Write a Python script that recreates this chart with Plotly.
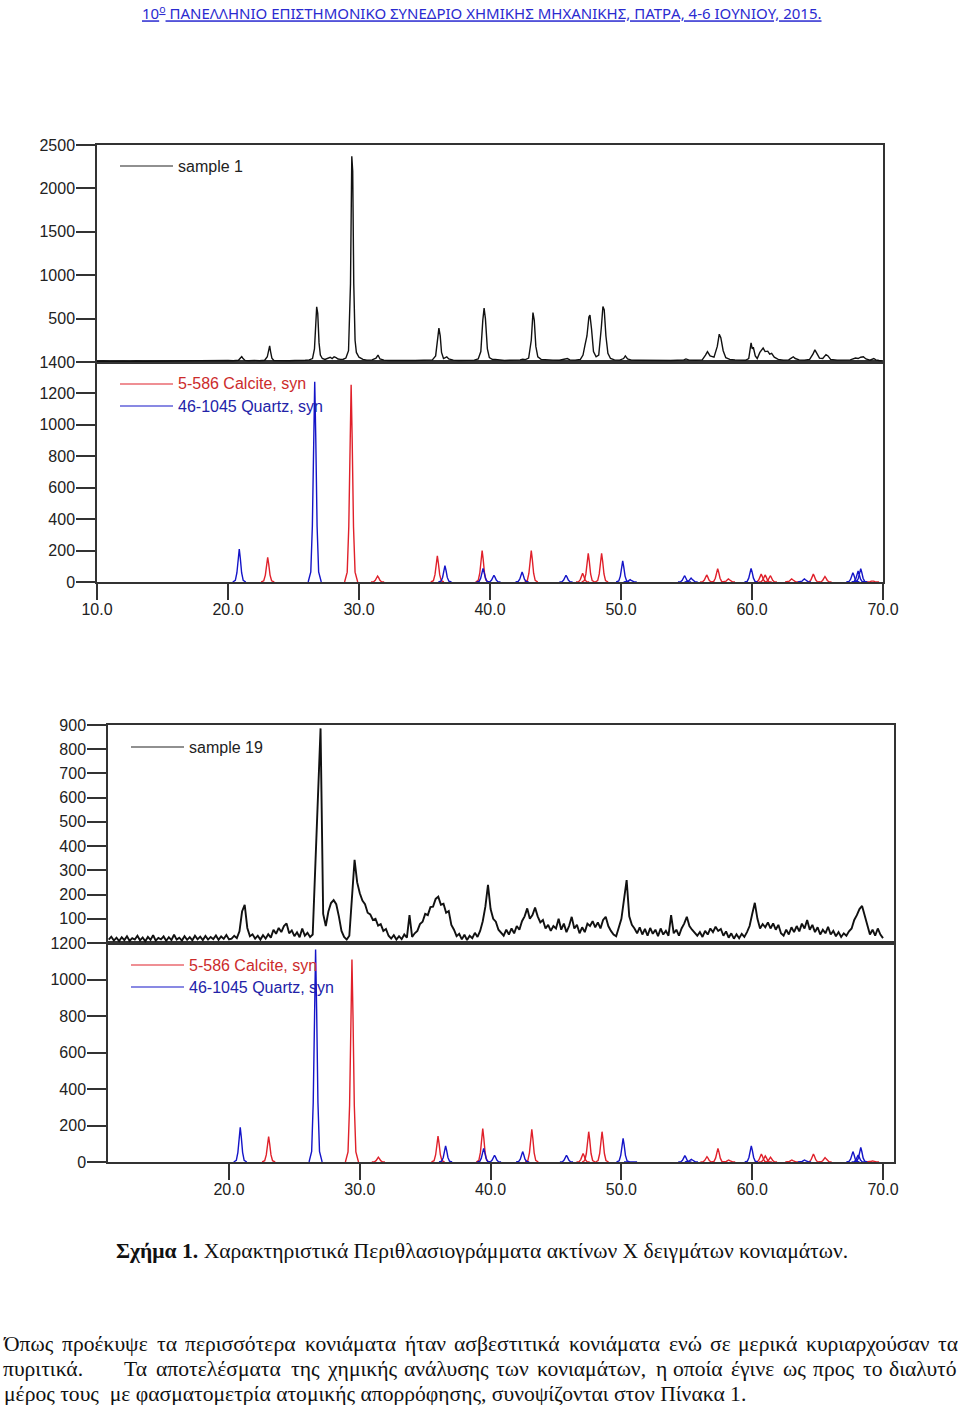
import plotly.graph_objects as go

# ---------------- data ----------------
# Sample 1 diffractogram (2theta, counts)
SAMPLE1_2THETA = [
    10.0, 10.5, 11.0, 11.5, 12.0, 12.5, 13.0, 13.5, 14.0, 14.5, 15.0, 15.5, 16.0, 16.5, 17.0, 17.5,
    18.0, 18.5, 19.0, 19.5, 20.0, 20.4, 20.8, 20.95, 21.05, 21.15, 21.3, 21.6, 22.0, 22.4, 22.8,
    23.0, 23.1, 23.18, 23.25, 23.35, 23.5, 23.9, 24.3, 24.7, 25.1, 25.5, 25.9, 26.2, 26.45, 26.6,
    26.7, 26.77, 26.85, 26.95, 27.05, 27.2, 27.4, 27.6, 27.8, 27.95, 28.1, 28.25, 28.4, 28.6, 28.8,
    29.0, 29.2, 29.35, 29.45, 29.52, 29.6, 29.7, 29.8, 30.0, 30.3, 30.6, 31.0, 31.3, 31.45, 31.6,
    31.9, 32.3, 32.8, 33.3, 33.8, 34.3, 34.8, 35.3, 35.6, 35.85, 36.0, 36.1, 36.2, 36.3, 36.45,
    36.7, 36.85, 37.2, 37.6, 38.0, 38.4, 38.8, 39.1, 39.3, 39.45, 39.55, 39.65, 39.8, 39.95, 40.2,
    40.4, 40.7, 41.1, 41.5, 41.9, 42.3, 42.5, 42.7, 42.95, 43.15, 43.28, 43.38, 43.5, 43.65, 43.9,
    44.3, 44.8, 45.3, 45.7, 45.9, 46.1, 46.5, 46.9, 47.1, 47.25, 47.4, 47.55, 47.63, 47.75, 47.9,
    48.1, 48.3, 48.5, 48.62, 48.72, 48.85, 49.0, 49.2, 49.5, 49.9, 50.2, 50.33, 50.5, 50.8, 51.3,
    51.8, 52.3, 52.8, 53.3, 53.8, 54.3, 54.8, 54.96, 55.2, 55.7, 56.2, 56.45, 56.6, 56.8, 57.1,
    57.35, 57.5, 57.62, 57.8, 58.0, 58.3, 58.7, 59.1, 59.5, 59.75, 59.85, 59.93, 60.02, 60.1, 60.25,
    60.4, 60.6, 60.75, 60.85, 61.0, 61.2, 61.35, 61.5, 61.7, 62.0, 62.4, 62.8, 63.0, 63.15, 63.3,
    63.6, 64.0, 64.4, 64.65, 64.8, 64.95, 65.15, 65.4, 65.65, 65.8, 66.0, 66.5, 67.0, 67.5, 67.9,
    68.1, 68.3, 68.5, 68.7, 69.0, 69.3, 69.45, 69.7, 69.9,
]
SAMPLE1_COUNTS = [
    8, 12, 7, 11, 9, 6, 12, 9, 10, 7, 12, 9, 11, 8, 13, 10,
    14, 11, 16, 13, 17, 14, 20, 45, 62, 40, 18, 14, 19, 15, 20,
    60, 150, 185, 120, 45, 18, 15, 19, 14, 18, 16, 20, 24, 40, 150,
    480, 635, 560, 220, 80, 40, 30, 45, 55, 40, 60, 50, 35, 30, 32,
    45, 130, 900, 2370, 2200, 900, 250, 110, 55, 30, 22, 25, 45, 80, 35,
    22, 18, 20, 16, 19, 17, 21, 19, 25, 70, 250, 390, 300, 110, 40,
    60, 35, 22, 18, 20, 18, 22, 35, 120, 480, 620, 500, 150, 50, 28,
    30, 22, 18, 20, 19, 24, 32, 28, 45, 250, 570, 480, 180, 60, 30,
    24, 22, 21, 28, 40, 25, 22, 30, 80, 195, 300, 520, 540, 380, 120,
    60, 80, 400, 640, 600, 300, 100, 40, 25, 22, 40, 70, 35, 22, 20,
    18, 21, 17, 20, 18, 21, 24, 35, 22, 20, 24, 80, 120, 70, 55,
    180, 320, 280, 130, 50, 30, 24, 22, 20, 40, 160, 220, 150, 170, 70,
    40, 110, 150, 160, 120, 125, 90, 100, 55, 30, 22, 25, 45, 60, 40,
    25, 22, 30, 90, 140, 100, 45, 40, 85, 70, 30, 22, 20, 25, 45,
    40, 55, 60, 35, 20, 40, 25, 18, 15,
]

# Sample 19 diffractogram: counts on a regular 2theta grid (start 10.8, step 0.2)
S19_START = 10.8
S19_STEP = 0.2
S19_COUNTS = [
    14, 26, 10, 22, 8, 24, 12, 28, 9, 20,          # 10.8 - 12.6
    14, 30, 11, 23, 7, 25, 13, 32, 10, 21,         # 12.8 - 14.6
    15, 27, 9, 24, 12, 34, 14, 22, 10, 28,         # 14.8 - 16.6
    13, 24, 11, 30, 15, 26, 12, 29, 14, 25,        # 16.8 - 18.6
    16, 31, 13, 27, 17, 33, 15, 18, 30, 20,        # 18.8 - 20.6
    48, 130, 157, 62, 28, 36, 18, 30, 14, 32,      # 20.8 - 22.6
    18, 36, 22, 55, 38, 62, 45, 70, 81, 40,        # 22.8 - 24.6
    52, 28, 44, 24, 60, 30, 42, 25, 35, 300,       # 24.8 - 26.6
    640, 886, 120, 70, 130, 165, 177, 160, 110, 50,  # 26.8 - 28.6
    25, 14, 30, 180, 343, 250, 205, 175, 160, 125,   # 28.8 - 30.6
    118, 95, 100, 72, 78, 50, 58, 30, 18, 32,      # 30.8 - 32.6
    14, 28, 16, 35, 22, 115, 25, 40, 50, 78,       # 32.8 - 34.6
    88, 120, 115, 148, 150, 182, 191, 158, 162, 125,  # 34.8 - 36.6
    132, 75, 55, 28, 38, 15, 34, 12, 30, 20,       # 36.8 - 38.6
    42, 25, 50, 90, 150, 240, 140, 100, 88, 55,    # 38.8 - 40.6
    40, 30, 55, 35, 60, 40, 70, 55, 90, 110,       # 40.8 - 42.6
    143, 100, 115, 146, 110, 85, 95, 60, 75, 50,   # 42.8 - 44.6
    70, 60, 100, 55, 80, 45, 70, 108, 60, 75,      # 44.8 - 46.6
    40, 65, 45, 80, 70, 90, 65, 85, 60, 95,        # 46.8 - 48.6
    108, 70, 50, 35, 28, 60, 100, 180, 260, 110,   # 48.8 - 50.6
    75, 60, 40, 65, 35, 58, 30, 62, 38, 55,        # 50.8 - 52.6
    28, 60, 35, 50, 30, 115, 40, 55, 30, 60,       # 52.8 - 54.6
    80, 108, 70, 55, 40, 30, 45, 25, 50, 35,       # 54.8 - 56.6
    60, 45, 67, 50, 58, 30, 48, 22, 40, 18,        # 56.8 - 58.6
    36, 20, 38, 25, 45, 70, 120, 166, 100, 60,     # 58.8 - 60.6
    78, 65, 85, 60, 81, 55, 75, 40, 30, 55,        # 60.8 - 62.6
    35, 65, 45, 70, 48, 80, 60, 95, 55, 75,        # 62.8 - 64.6
    45, 65, 35, 55, 40, 67, 35, 50, 28, 45,        # 64.8 - 66.6
    25, 40, 30, 48, 60, 95, 115, 140, 153, 110,    # 66.8 - 68.6
    70, 35, 55, 30, 60, 35, 20,                    # 68.8 - 70.0
]
if len(S19_COUNTS) != 297:
    raise ValueError("S19 length %d" % len(S19_COUNTS))

# Reference patterns: peak positions (2theta) and heights
CALCITE_2THETA = [23.03, 29.40, 31.42, 35.98, 39.40, 43.15, 47.07, 47.50, 48.52,
                  56.54, 57.38, 58.20, 60.70, 61.00, 61.40, 63.03, 64.68, 65.57, 69.20]
CALCITE_H_FIG1 = [157, 1255, 38, 166, 200, 200, 55, 183, 183,
                  45, 85, 20, 50, 45, 40, 20, 50, 35, 8]
CALCITE_H_FIG2 = [139, 1110, 26, 142, 183, 179, 47, 166, 166,
                  29, 75, 11, 44, 33, 26, 11, 44, 24, 6]
QUARTZ_2THETA = [20.86, 26.62, 36.56, 39.47, 40.30, 42.45, 45.80, 50.13, 50.70,
                 54.85, 55.35, 59.93, 64.00, 67.70, 68.10, 68.30]
QUARTZ_H_FIG1 = [210, 1275, 104, 87, 43, 64, 43, 134, 15, 40, 25, 87, 20, 59, 70, 85]
QUARTZ_H_FIG2 = [190, 1165, 88, 75, 37, 57, 37, 130, 4, 35, 15, 88, 11, 57, 38, 80]

# tick values
Y1_UP_TICKS = [500, 1000, 1500, 2000, 2500]
Y1_LO_TICKS = [0, 200, 400, 600, 800, 1000, 1200, 1400]
Y2_UP_TICKS = [100, 200, 300, 400, 500, 600, 700, 800, 900]
Y2_LO_TICKS = [0, 200, 400, 600, 800, 1000, 1200]

HEADER = "<u>10<sup>o</sup> ΠΑΝΕΛΛΗΝΙΟ ΕΠΙΣΤΗΜΟΝΙΚΟ ΣΥΝΕΔΡΙΟ ΧΗΜΙΚΗΣ ΜΗΧΑΝΙΚΗΣ, ΠΑΤΡΑ, 4-6 ΙΟΥΝΙΟΥ, 2015.</u>"
CAPTION = "<b>Σχήμα 1.</b> Χαρακτηριστικά Περιθλασιογράμματα ακτίνων Χ δειγμάτων κονιαμάτων."
LINE1_WORDS = ["Όπως", "προέκυψε", "τα", "περισσότερα", "κονιάματα", "ήταν", "ασβεστιτικά",
               "κονιάματα", "ενώ", "σε", "μερικά", "κυριαρχούσαν", "τα"]
LINE2_FIRST = "πυριτικά."
LINE2_WORDS = ["Τα", "αποτελέσματα", "της", "χημικής", "ανάλυσης", "των",
               "κονιαμάτων,", "η", "οποία", "έγινε", "ως", "προς", "το", "διαλυτό"]
LINE3 = "μέρος τους  με φασματομετρία ατομικής απορρόφησης, συνοψίζονται στον Πίνακα 1."

# ---------------- style ----------------
W, H = 960, 1405
AX = "#333333"
TXT = "#222222"
RED = "#e0202a"
BLUE = "#1414c8"
RED_T = "#cc2b2b"
BLUE_T = "#2222a8"
SANS = "Liberation Sans, Arial, sans-serif"
SERIF = "Liberation Serif, Times New Roman, serif"
BODY_SIZE = 21.6
PROFILE_DX = [-0.5, -0.3, -0.18, -0.08, 0.0, 0.08, 0.18, 0.3, 0.5]
PROFILE_FRAC = [0.0, 0.05, 0.28, 0.72, 1.0, 0.72, 0.28, 0.05, 0.0]

# approximate serif glyph advances (em) used to justify the paragraph lines
GLYPH_EM = {
    'α': .537, 'ά': .537, 'β': .503, 'γ': .459, 'δ': .5, 'ε': .44, 'έ': .44, 'ζ': .44,
    'η': .518, 'ή': .518, 'θ': .5, 'ι': .278, 'ί': .278, 'κ': .503, 'λ': .478, 'μ': .537,
    'ν': .459, 'ξ': .44, 'ο': .5, 'ό': .5, 'π': .547, 'ρ': .5, 'σ': .532, 'ς': .42,
    'τ': .43, 'υ': .5, 'ύ': .5, 'φ': .635, 'χ': .469, 'ψ': .649, 'ω': .684, 'ώ': .684,
    'Ό': .78, 'Τ': .611, 'Π': .722, '.': .25, ',': .25, ' ': .25,
}


def word_px(word):
    return sum(GLYPH_EM.get(c, 0.5) for c in word) * BODY_SIZE


def justified_lefts(words, left, right):
    widths = [word_px(w) for w in words]
    gap = (right - left - sum(widths)) / (len(words) - 1)
    xs, cur = [], left
    for wdt in widths:
        xs.append(cur)
        cur += wdt + gap
    return xs


def px(x):
    return x / W


def py(y):
    return 1 - y / H


def peaks_xy(pos, hts):
    xs, ys = [], []
    for p, h in zip(pos, hts):
        xs += [p + d for d in PROFILE_DX] + [None]
        ys += [h * f for f in PROFILE_FRAC] + [None]
    return xs, ys


fig = go.Figure()

# chart 1
fig.add_trace(go.Scatter(x=SAMPLE1_2THETA, y=SAMPLE1_COUNTS, mode="lines",
                         line=dict(color="#111111", width=1.4), xaxis="x2", yaxis="y2"))
cx, cy = peaks_xy(CALCITE_2THETA, CALCITE_H_FIG1)
fig.add_trace(go.Scatter(x=cx, y=cy, mode="lines", line=dict(color=RED, width=1.4),
                         xaxis="x", yaxis="y", connectgaps=False))
qx, qy = peaks_xy(QUARTZ_2THETA, QUARTZ_H_FIG1)
fig.add_trace(go.Scatter(x=qx, y=qy, mode="lines", line=dict(color=BLUE, width=1.4),
                         xaxis="x", yaxis="y", connectgaps=False))

# chart 2
fig.add_trace(go.Scatter(x0=S19_START, dx=S19_STEP, y=S19_COUNTS, mode="lines",
                         line=dict(color="#111111", width=1.9), xaxis="x4", yaxis="y4"))
cx, cy = peaks_xy(CALCITE_2THETA, CALCITE_H_FIG2)
fig.add_trace(go.Scatter(x=cx, y=cy, mode="lines", line=dict(color=RED, width=1.4),
                         xaxis="x3", yaxis="y3", connectgaps=False))
qx, qy = peaks_xy(QUARTZ_2THETA, QUARTZ_H_FIG2)
fig.add_trace(go.Scatter(x=qx, y=qy, mode="lines", line=dict(color=BLUE, width=1.4),
                         xaxis="x3", yaxis="y3", connectgaps=False))

tickfont = dict(family=SANS, size=16, color=TXT)
common = dict(showgrid=False, zeroline=False, showline=True, linecolor=AX, linewidth=1.5,
              mirror=True, tickcolor=AX, tickwidth=1.5, tickfont=tickfont, automargin=False)
xstyle = dict(ticks="outside", ticklen=16, ticklabelstandoff=-4, tick0=10, dtick=10,
              tickformat=".1f")
ystyle = dict(ticks="outside", ticklen=19, ticklabelstandoff=-2)

c1_dom = [px(97), px(883)]
c2_dom = [px(108), px(894)]
layout = dict(
    template="none",
    width=W, height=H, margin=dict(l=0, r=0, t=0, b=0, pad=0, autoexpand=False), autosize=False,
    paper_bgcolor="white", plot_bgcolor="white", showlegend=False,
    xaxis=dict(domain=c1_dom, range=[10, 70], anchor="y", **xstyle, **common),
    xaxis2=dict(domain=c1_dom, range=[10, 70], anchor="y2", ticks="", showticklabels=False,
                **common),
    yaxis=dict(domain=[py(582), py(362)], range=[0, 1400], anchor="x",
               tickvals=Y1_LO_TICKS, **ystyle, **common),
    yaxis2=dict(domain=[py(362), py(145)], range=[0, 2500], anchor="x2",
                tickvals=Y1_UP_TICKS, **ystyle, **common),
    xaxis3=dict(domain=c2_dom, range=[10.75, 70.84], anchor="y3", **xstyle, **common),
    xaxis4=dict(domain=c2_dom, range=[10.75, 70.84], anchor="y4", ticks="", showticklabels=False,
                **common),
    yaxis3=dict(domain=[py(1162), py(943)], range=[0, 1200], anchor="x3",
                tickvals=Y2_LO_TICKS, **ystyle, **common),
    yaxis4=dict(domain=[py(943), py(725)], range=[0, 900], anchor="x4",
                tickvals=Y2_UP_TICKS, **ystyle, **common),
)
fig.update_layout(**layout)

shapes = []
annotations = []


def legend_entry(x0, y, text, lcolor, tcolor):
    shapes.append(dict(type="line", xref="paper", yref="paper", x0=px(x0), x1=px(x0 + 53),
                       y0=py(y), y1=py(y), line=dict(color=lcolor, width=1.2)))
    annotations.append(dict(xref="paper", yref="paper", x=px(x0 + 56), y=py(y), text=text,
                            showarrow=False, xanchor="left", yanchor="middle",
                            font=dict(family=SANS, size=16, color=tcolor)))


legend_entry(120, 166, "sample 1", TXT, TXT)
legend_entry(120, 384, "5-586 Calcite, syn", RED, RED_T)
legend_entry(120, 406, "46-1045 Quartz, syn", BLUE, BLUE_T)
legend_entry(131, 747, "sample 19", TXT, TXT)
legend_entry(131, 965, "5-586 Calcite, syn", RED, RED_T)
legend_entry(131, 987, "46-1045 Quartz, syn", BLUE, BLUE_T)


def text_at(x, y, text, anchor="left", size=BODY_SIZE, family=SERIF, color="#111111"):
    annotations.append(dict(xref="paper", yref="paper", x=px(x), y=py(y), text=text,
                            showarrow=False, xanchor=anchor, yanchor="middle", borderpad=0,
                            font=dict(family=family, size=size, color=color)))


text_at(481.5, 13, HEADER, anchor="center", size=15,
        family="Liberation Sans Narrow, Noto Sans, sans-serif", color="#2a2ad0")
text_at(481.5, 1251, CAPTION, anchor="center")

for w, x in zip(LINE1_WORDS, justified_lefts(LINE1_WORDS, 2, 958)):
    text_at(x, 1344, w)
text_at(2, 1369, LINE2_FIRST)
for w, x in zip(LINE2_WORDS, justified_lefts(LINE2_WORDS, 123, 958)):
    text_at(x, 1369, w)
text_at(3, 1394, LINE3)

fig.update_layout(shapes=shapes, annotations=annotations)
fig.write_html("out.html")
